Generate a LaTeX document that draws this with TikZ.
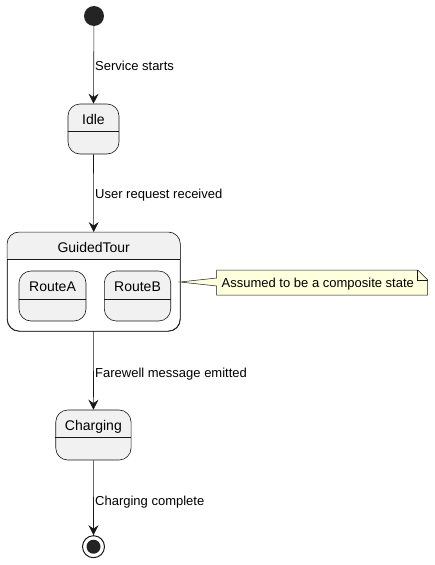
\documentclass[tikz,border=0pt]{standalone}
\usepackage{fontspec}
\setmainfont{Liberation Sans}
\usetikzlibrary{arrows.meta}
\definecolor{stfill}{HTML}{F1F1F1}
\definecolor{stline}{HTML}{181818}
\definecolor{notefill}{HTML}{FEFFDD}
\tikzset{
  statebox/.style={draw=stline, fill=stfill, rounded corners=12pt, line width=0.6pt, inner sep=0pt},
  compbox/.style={draw=stline, fill=white, rounded corners=12pt, line width=0.6pt, inner sep=0pt},
  stname/.style={font=\fontsize{14}{16}\selectfont, inner sep=0pt, anchor=base, text=black},
  trlabel/.style={font=\fontsize{13}{15}\selectfont, inner sep=0pt, anchor=base west, text=black},
  trans/.style={draw=stline, line width=0.6pt, -{Stealth[length=10pt,width=10pt,inset=3.5pt]}},
  divider/.style={draw=stline, line width=0.6pt},
}
\begin{document}
\begin{tikzpicture}[x=1pt,y=-1pt]
\useasboundingbox (0,0) rectangle (434,565);
% initial
\node[circle, fill=stline!95!white, minimum size=20pt, inner sep=0pt] (init) at (94,16) {};
% Idle
\node[statebox, minimum width=51pt, minimum height=50pt] (idle) at (93.5,129) {};
\draw[divider] (idle.west |- 0,131) -- (idle.east |- 0,131);
\node[stname] (idlet) at (93.5,124) {Idle};
% GuidedTour
\node[compbox, minimum width=172.7pt, minimum height=98.7pt] (tour) at (93.7,281.7) {};
\begin{scope}
\clip[rounded corners=12pt] (tour.south west) rectangle (tour.north east);
\fill[stfill] (tour.north west) rectangle (tour.east |- 0,259.3);
\end{scope}
\draw[compbox, fill=none] (tour.south west) rectangle (tour.north east);
\draw[divider] (tour.west |- 0,259.3) -- (tour.east |- 0,259.3);
\node[stname] (tourt) at (93.7,252.7) {GuidedTour};
% RouteA
\node[statebox, minimum width=67pt, minimum height=50pt] (routea) at (52.5,296) {};
\draw[divider] (routea.west |- 0,299.3) -- (routea.east |- 0,299.3);
\node[stname] (routeat) at (52.5,291.7) {RouteA};
% RouteB
\node[statebox, minimum width=66.4pt, minimum height=50pt] (routeb) at (137.5,296) {};
\draw[divider] (routeb.west |- 0,299.3) -- (routeb.east |- 0,299.3);
\node[stname] (routebt) at (137.5,291.7) {RouteB};
% Charging
\node[statebox, minimum width=75.3pt, minimum height=50pt] (charg) at (93.4,435) {};
\draw[divider] (charg.west |- 0,437.3) -- (charg.east |- 0,437.3);
\node[stname] (chargt) at (93.4,430.7) {Charging};
% final
\node[circle, draw=stline, line width=1pt, fill=white, minimum size=22pt, inner sep=0pt] (final) at (93.5,546.7) {};
\fill[stline!95!white] (final.center) circle (7pt);
% note
\coordinate (notetip) at (180,282);
\draw[stline, line width=0.5pt, fill=notefill] (216.7,270) -- (417.7,270) -- (427.7,280) -- (427.7,295) -- (216.7,295) -- (216.7,286) -- (notetip) -- (216.7,278) -- cycle;
\draw[stline, line width=0.5pt] (417.7,270) -- (417.7,280) -- (427.7,280);
\node[font=\fontsize{13}{15}\selectfont, inner sep=0pt, anchor=base west] (note) at (221.5,287) {Assumed to be a composite state};
% transitions
\draw[trans] (init) -- (idle.north);
\node[trlabel] (l1) at (95,70.5) {Service starts};
\draw[trans] (idle.south) -- (tour.north);
\node[trlabel] (l2) at (95,198.3) {User request received};
\draw[trans] (tour.south) -- (charg.north);
\node[trlabel] (l3) at (95,377.3) {Farewell message emitted};
\draw[trans] (charg.south) -- (final.north);
\node[trlabel] (l4) at (95,505) {Charging complete};
\end{tikzpicture}
\end{document}
